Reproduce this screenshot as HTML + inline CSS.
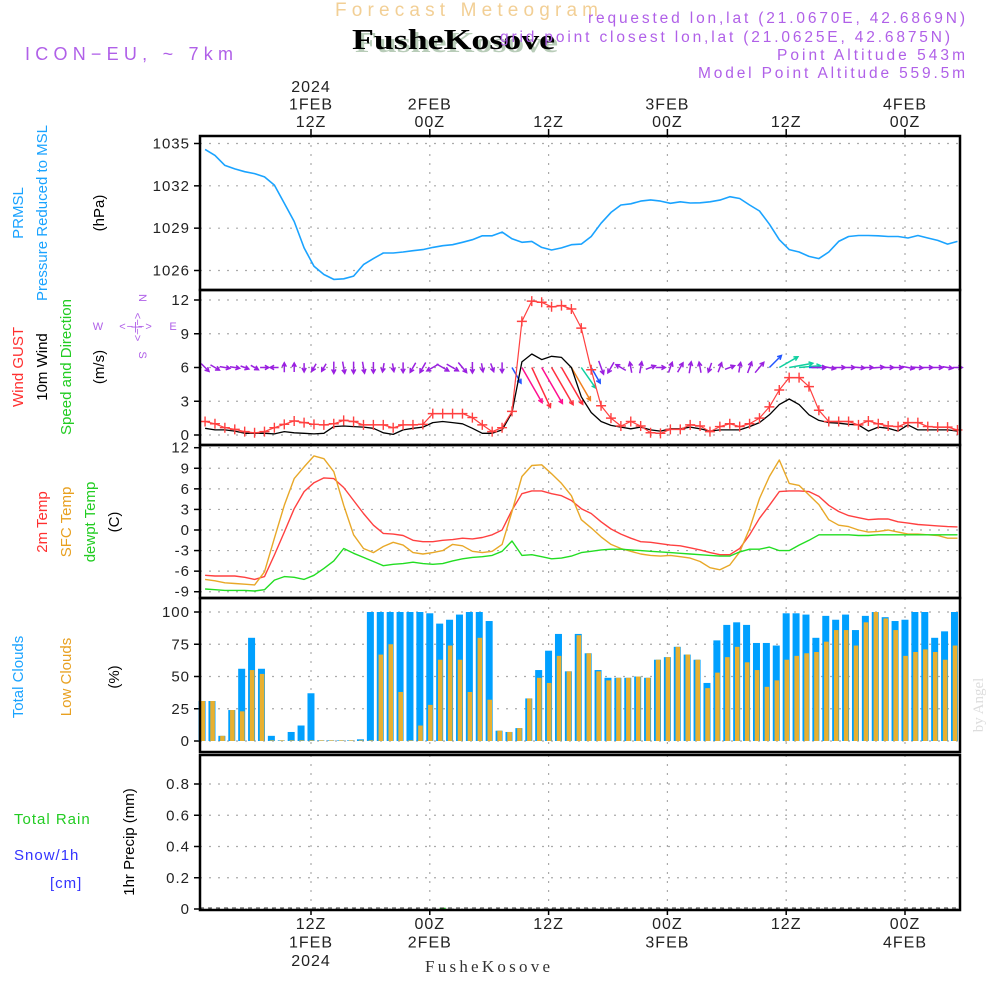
<!DOCTYPE html>
<html><head><meta charset="utf-8">
<style>
html,body{margin:0;padding:0;background:#fff;}
svg{display:block;font-family:"Liberation Sans",sans-serif;}
.tk{font-size:15px;fill:#222;letter-spacing:1px;}
.grid{stroke:#aaa;stroke-width:1.2;stroke-dasharray:2,7;}
</style></head>
<body>
<svg id="chart" width="1000" height="1000" viewBox="0 0 1000 1000">
  <text x="335" y="16" textLength="263" lengthAdjust="spacing" font-size="19" fill="#f2cf95">Forecast Meteogram</text>
  <text x="355" y="52" textLength="203" lengthAdjust="spacingAndGlyphs" font-size="29" font-weight="bold" font-family="Liberation Serif,serif" fill="#b8ccb8">FusheKosove</text>
  <text x="352" y="49" textLength="203" lengthAdjust="spacingAndGlyphs" font-size="29" font-weight="bold" font-family="Liberation Serif,serif" fill="#000">FusheKosove</text>
  <text x="25" y="60" textLength="208" lengthAdjust="spacing" font-size="18" fill="#b060e8">ICON−EU, ~ 7km</text>
  <g font-size="15.5" fill="#b060e8">
    <text x="588" y="23" textLength="377" lengthAdjust="spacing">requested lon,lat (21.0670E, 42.6869N)</text>
    <text x="500" y="42" textLength="450" lengthAdjust="spacing">grid point closest lon,lat (21.0625E, 42.6875N)</text>
    <text x="777" y="60" textLength="188" lengthAdjust="spacing">Point Altitude 543m</text>
    <text x="698" y="78" textLength="267" lengthAdjust="spacing">Model Point Altitude 559.5m</text>
  </g>
  <g id="plots"></g>
  <g font-size="15" text-anchor="middle">
    <text transform="translate(23,213) rotate(-90)" fill="#1aa3ff">PRMSL</text>
    <text transform="translate(47,213) rotate(-90)" fill="#1aa3ff">Pressure Reduced to MSL</text>
    <text transform="translate(104,213) rotate(-90)" fill="#000">(hPa)</text>
    <text transform="translate(23,367) rotate(-90)" fill="#ff3030">Wind GUST</text>
    <text transform="translate(47,367) rotate(-90)" fill="#000">10m Wind</text>
    <text transform="translate(71,367) rotate(-90)" fill="#22cc22">Speed and Direction</text>
    <text transform="translate(104,367) rotate(-90)" fill="#000">(m/s)</text>
    <text transform="translate(47,522) rotate(-90)" fill="#ff3030">2m Temp</text>
    <text transform="translate(71,522) rotate(-90)" fill="#e8a020">SFC Temp</text>
    <text transform="translate(95,522) rotate(-90)" fill="#22cc22">dewpt Temp</text>
    <text transform="translate(119,522) rotate(-90)" fill="#000">(C)</text>
    <text transform="translate(23,677) rotate(-90)" fill="#1aa3ff">Total Clouds</text>
    <text transform="translate(71,677) rotate(-90)" fill="#e8a020">Low Clouds</text>
    <text transform="translate(119,677) rotate(-90)" fill="#000">(%)</text>
    <text transform="translate(134,842) rotate(-90)" fill="#000">1hr Precip (mm)</text>
    <text x="14" y="824" text-anchor="start" fill="#22cc22" letter-spacing="1">Total  Rain</text>
    <text x="14" y="860" text-anchor="start" fill="#3333ff" letter-spacing="1">Snow/1h</text>
    <text x="50" y="888" text-anchor="start" fill="#3333ff" letter-spacing="1">[cm]</text>
  </g>
  <g font-size="11" fill="#b060e8" text-anchor="middle">
    <text transform="translate(139,298) rotate(90)">N</text>
    <text transform="translate(134,327) rotate(90)">&lt;−|−&gt;</text>
    <text transform="translate(139,355) rotate(90)">S</text>
    <text x="98" y="330">W</text>
    <text x="136" y="330" letter-spacing="1">&lt;−|−&gt;</text>
    <text x="173" y="330">E</text>
  </g>
  <text transform="translate(983,705) rotate(-90)" font-size="15" text-anchor="middle" font-family="Liberation Serif,serif" fill="#ddd">by Angel</text>
  <text x="425" y="972" textLength="125" lengthAdjust="spacing" font-size="17" font-family="Liberation Serif,serif" fill="#333">FusheKosove</text>
</svg>
<script>
const pressure=[1034.58,1034.16,1033.45,1033.2,1033.0,1032.87,1032.63,1032.05,1030.76,1029.47,1027.6,1026.3,1025.72,1025.37,1025.41,1025.6,1026.42,1026.84,1027.24,1027.24,1027.31,1027.4,1027.48,1027.64,1027.76,1027.83,1028.0,1028.18,1028.46,1028.46,1028.72,1028.25,1028.0,1028.06,1027.64,1027.45,1027.6,1027.83,1027.87,1028.41,1029.35,1030.12,1030.64,1030.73,1030.92,1031.0,1030.92,1030.76,1030.87,1030.78,1030.8,1030.87,1030.99,1031.23,1031.1,1030.64,1030.22,1029.28,1028.18,1027.48,1027.31,1027.0,1026.84,1027.31,1028.06,1028.41,1028.48,1028.48,1028.46,1028.41,1028.41,1028.3,1028.48,1028.3,1028.13,1027.87,1028.06];
const gust=[1.2,1.0,0.65,0.5,0.3,0.2,0.3,0.65,0.95,1.25,1.1,0.95,0.9,1.0,1.3,1.2,0.9,0.9,0.9,0.65,0.9,0.9,0.95,1.9,1.9,1.9,1.9,1.55,0.9,0.3,0.65,2.1,10.1,11.9,11.8,11.4,11.5,11.2,9.5,5.8,2.6,1.5,0.8,1.2,0.8,0.2,0.15,0.5,0.5,0.9,0.8,0.3,0.75,1.0,0.75,1.0,1.5,2.5,4.0,5.1,5.1,4.3,2.2,1.2,1.2,1.2,0.9,1.25,1.0,0.8,0.75,1.1,1.1,0.75,0.7,0.7,0.45];
const wind=[0.6,0.45,0.45,0.35,0.15,0.15,0.15,0.1,0.3,0.2,0.15,0.1,0.15,0.75,0.8,0.75,0.7,0.6,0.2,0.05,0.45,0.6,0.7,1.1,1.2,1.1,1.0,0.6,0.15,0.15,0.45,2.0,6.5,7.2,6.7,7.0,6.9,6.0,3.4,2.0,1.2,0.85,0.7,0.55,0.7,0.45,0.35,0.55,0.55,0.7,0.55,0.35,0.45,0.45,0.45,0.75,1.1,1.8,2.7,3.2,2.7,1.8,1.3,1.1,1.05,0.95,0.9,0.35,0.7,0.6,0.35,0.9,0.45,0.45,0.45,0.45,0.35];
const windDir=[315,300,280,280,290,300,270,90,180,180,0,30,30,0,350,0,350,0,10,350,0,30,30,60,300,300,320,0,350,340,0,330,330,335,330,330,330,330,325,330,340,30,120,170,190,250,270,200,210,190,170,20,200,250,190,200,220,225,240,260,265,270,270,280,270,270,275,270,265,270,270,280,275,270,270,280,270];
const t2m=[-6.6,-6.7,-6.7,-6.7,-6.9,-7.2,-6.8,-3.65,-0.3,3.1,5.6,6.9,7.6,7.5,6.2,4.3,2.4,0.7,-0.5,-0.6,-0.8,-1.5,-1.7,-1.7,-1.5,-1.4,-1.2,-1.3,-1.1,-0.7,0,2.9,5.3,5.7,5.7,5.3,5.0,4.3,3.1,2.4,1.2,0.15,-0.6,-1.2,-1.7,-1.8,-2.0,-2.2,-2.3,-2.6,-2.9,-3.3,-3.6,-3.6,-2.7,-0.7,1.7,3.6,5.6,5.7,5.7,5.6,4.9,3.6,2.7,2.1,1.8,1.5,1.6,1.6,1.2,1.0,0.8,0.7,0.6,0.5,0.45];
const tsfc=[-7.2,-7.4,-7.7,-7.8,-7.9,-8.0,-6.1,-1.2,3.6,7.5,9.2,10.8,10.4,8.5,3.6,-0.7,-2.7,-3.3,-2.4,-1.8,-2.2,-3.3,-3.5,-3.3,-3.0,-2.1,-2.3,-3.1,-3.3,-3.1,-2.1,2.7,7.8,9.4,9.5,8.2,6.8,5.0,1.5,0.3,-1.0,-2.1,-2.7,-3.1,-3.5,-3.7,-3.8,-3.7,-3.9,-4.1,-4.6,-5.5,-5.8,-5.1,-3.2,0.2,4.6,7.8,10.2,6.8,6.5,5.1,3.7,1.5,0.7,0.5,0,-0.3,-0.2,0,-0.3,-0.6,-0.6,-0.7,-0.8,-1.2,-1.2];
const tdew=[-8.6,-8.7,-8.8,-8.8,-8.8,-8.9,-8.7,-7.3,-6.8,-6.9,-7.2,-6.6,-5.6,-4.5,-2.7,-3.4,-4.0,-4.6,-5.2,-5.0,-4.9,-4.7,-4.9,-5.0,-4.9,-4.5,-4.2,-4.0,-3.9,-3.7,-3.1,-1.6,-3.7,-3.6,-3.9,-4.2,-4.1,-3.8,-3.3,-3.1,-2.9,-2.8,-2.8,-2.9,-3.0,-3.1,-3.2,-3.3,-3.4,-3.5,-3.6,-3.7,-3.8,-3.8,-3.2,-2.8,-2.8,-2.5,-3.0,-3.0,-2.2,-1.5,-0.7,-0.7,-0.7,-0.7,-0.8,-0.8,-0.7,-0.7,-0.7,-0.7,-0.7,-0.7,-0.7,-0.7,-0.7];
const totalClouds=[31,31,4,24,56,80,56,4,0.5,7,12,37,0.5,0.5,0.5,0.5,1.3,100,100,100,100,100,100,99,91,94,98,100,100,93,8,7,10,33,55,70,83,54,83,68,55,49,49,49,50,49,63,65,73,67,63,45,78,90,92,90,76,76,74,99,99,98,80,97,94,98,86,97,100,96,93,94,100,100,80,85,100];
const lowClouds=[31,31,4,24,23,55,52,0.5,0.5,0.5,0.5,0.5,0.5,0.5,0.5,0.5,0.5,0.5,67,75,38,0.5,12,28,63,74,63,38,80,32,8,7,10,33,49,45,66,54,82,68,54,47,49,49,50,49,63,65,73,67,63,41,53,65,73,61,55,42,47,63,66,68,69,77,86,86,74,92,100,95,86,66,69,71,69,63,74];
const precip=[0,0,0,0,0,0,0,0,0,0,0,0,0,0,0,0,0,0,0,0,0,0,0,0,0.002,0,0,0,0,0,0,0,0,0,0,0,0,0,0,0,0,0,0,0,0,0,0,0,0,0,0,0,0,0,0,0,0,0,0,0,0,0,0,0,0,0,0,0,0,0,0,0,0,0,0,0,0];
const hours=[1.3,2.3,3.3,4.3,5.3,6.3,7.3,8.3,9.3,10.3,11.3,12.3,13.3,14.3,15.3,16.3,17.3,18.3,19.3,20.3,21.3,22.3,23.3,24.3,25.3,26.3,27.3,28.3,29.3,30.3,31.3,32.3,33.3,34.3,35.3,36.3,37.3,38.3,39.3,40.3,41.3,42.3,43.3,44.3,45.3,46.3,47.3,48.3,49.3,50.3,51.3,52.3,53.3,54.3,55.3,56.3,57.3,58.3,59.3,60.3,61.3,62.3,63.3,64.3,65.3,66.3,67.3,68.3,69.3,70.3,71.3,72.3,73.3,74.3,75.3,76.3,77.3];
const timeTickHours=[12,24,36,48,60,72];
const topTickLabels=[["2024","1FEB","12Z"],["2FEB","00Z"],["12Z"],["3FEB","00Z"],["12Z"],["4FEB","00Z"]];
const bottomTickLabels=[["12Z","1FEB","2024"],["00Z","2FEB"],["12Z"],["00Z","3FEB"],["12Z"],["00Z","4FEB"]];
const pTicks=[1026,1029,1032,1035];
const wTicks=[0,3,6,9,12];
const tTicks=[-9,-6,-3,0,3,6,9,12];
const cTicks=[0,25,50,75,100];
const prTicks=[0,0.2,0.4,0.6,0.8];

const NS="http://www.w3.org/2000/svg";
const root=document.getElementById('plots');
const X0=200,X1=960;
function xh(h){return 311+(h-12)*9.9;}
function lin(v0,y0,v1,y1){return v=>y0+(v-v0)*(y1-y0)/(v1-v0);}
const yP=lin(1026,270.5,1035,143.5);
const yW=lin(0,435,12,300);
const yT=lin(0,530,12,447.7);
const yC=lin(0,741,100,612);
const yR=lin(0,909,0.8,784);
function mk(tag,attrs,parent){const e=document.createElementNS(NS,tag);for(const k in attrs)e.setAttribute(k,attrs[k]);(parent||root).appendChild(e);return e;}

const panels=[
 {name:'pressure',y0:136,y1:290,ticks:pTicks,ys:yP,fmt:v=>String(v)},
 {name:'wind',y0:290,y1:445,ticks:wTicks,ys:yW,fmt:v=>String(v)},
 {name:'temperature',y0:445,y1:598,ticks:tTicks,ys:yT,fmt:v=>String(v)},
 {name:'clouds',y0:598,y1:752,ticks:cTicks,ys:yC,fmt:v=>String(v)},
 {name:'precip',y0:755,y1:910,ticks:prTicks,ys:yR,fmt:v=>v===0?'0':v.toFixed(1)}
];
panels.forEach(p=>{
  const g=mk('g',{});
  
  
  p.g=g;
  timeTickHours.forEach(h=>{const l=mk('line',{x1:xh(h),x2:xh(h),y1:p.y0,y2:p.y1,class:'grid'},g);
    
    });
  p.ticks.forEach(v=>{
    const y=p.ys(v);
    const l=mk('line',{x1:X0,x2:X1,y1:y,y2:y,class:'grid'},g);
    
    
    mk('line',{x1:X0-6,x2:X0,y1:y,y2:y,stroke:'#000','stroke-width':1.5},g);
    const t=mk('text',{x:X0-10,y:y+5,'text-anchor':'end',class:'tk'},g);
    t.textContent=p.fmt(v);
    
    
  });
});
function line(arr,ys,color,name,g,w){
  const d=arr.map((v,i)=>(i?'L':'M')+xh(hours[i]).toFixed(1)+','+ys(v).toFixed(1)).join('');
  const p=mk('path',{d:d,fill:'none',stroke:color,'stroke-width':w||1.4,'stroke-linejoin':'round'},g);
  
  
  return p;
}
line(pressure,yP,'#1aa3ff','pressure-line',panels[0].g,1.6);
const cg=panels[3].g;
totalClouds.forEach((v,i)=>{
  const c=xh(hours[i])-3;
  const r=mk('rect',{x:c-3.5,y:yC(v),width:7,height:yC(0)-yC(v),fill:'#00a0ff'},cg);
  
  
  const lv=lowClouds[i];
  const r2=mk('rect',{x:c-1.7,y:yC(lv),width:4.6,height:yC(0)-yC(lv),fill:'#e8b030'},cg);
  
  
});
const tg=panels[2].g;
line(t2m,yT,'#ff4040','temp-2m-line',tg);
line(tsfc,yT,'#e8a828','temp-sfc-line',tg);
line(tdew,yT,'#22dd22','dewpoint-line',tg);
const wg=panels[1].g;
function arrowColor(s){return s<1.5?'#9a20e0':s<2.5?'#2255ff':s<4?'#10d0a0':s<6.3?'#f08020':s<6.8?'#ff1090':'#ff3040';}
windDir.forEach((d,i)=>{
  const s=wind[i];
  const x=xh(hours[i]),y=yW(6);
  const len=8+s*5;
  const a=(d+180)*Math.PI/180;
  const dx=Math.sin(a)*len,dy=-Math.cos(a)*len;
  const col=arrowColor(s);
  const strong=s>=1.5;
  const sx=strong?x:x-dx/2, sy=strong?y:y-dy/2;
  const ex=sx+dx, ey=sy+dy;
  const ah=Math.atan2(ey-sy,ex-sx);
  const hl=4.5;
  const d1=`M${sx.toFixed(1)},${sy.toFixed(1)}L${ex.toFixed(1)},${ey.toFixed(1)}M${(ex-hl*Math.cos(ah-0.5)).toFixed(1)},${(ey-hl*Math.sin(ah-0.5)).toFixed(1)}L${ex.toFixed(1)},${ey.toFixed(1)}L${(ex-hl*Math.cos(ah+0.5)).toFixed(1)},${(ey-hl*Math.sin(ah+0.5)).toFixed(1)}`;
  const p=mk('path',{d:d1,fill:'none',stroke:col,'stroke-width':1.5},wg);
  
  
});
line(wind,yW,'#000','wind-speed-line',wg,1.3);
line(gust,yW,'#ff4040','wind-gust-line',wg,1.2);
gust.forEach((v,i)=>{
  const x=xh(hours[i]),y=yW(v);
  const p=mk('path',{d:`M${x-5},${y}L${x+5},${y}M${x},${y-5}L${x},${y+5}`,stroke:'#ff4040','stroke-width':1.4},wg);
  
  
});
const pg=panels[4].g;
precip.forEach((v,i)=>{
  if(v<=0)return;
  const x=xh(hours[i]);
  const r=mk('rect',{x:x-3,y:yR(v)-1,width:6,height:yR(0)-yR(v)+1,fill:'#22cc22'},pg);
  
  
});
const zl=mk('line',{x1:X0,x2:X1,y1:yR(0)-1,y2:yR(0)-1,stroke:'#333','stroke-width':1,'stroke-dasharray':'4,4'},pg);


panels.forEach(p=>{
  const r=mk('rect',{x:X0,y:p.y0,width:X1-X0,height:p.y1-p.y0,fill:'none',stroke:'#000','stroke-width':2.5});
  
  
});
timeTickHours.forEach((h,k)=>{
  const x=xh(h);
  mk('line',{x1:x,x2:x,y1:129,y2:136,stroke:'#000','stroke-width':1.5});
  mk('line',{x1:x,x2:x,y1:910,y2:915,stroke:'#000','stroke-width':1.5});
  const top=topTickLabels[k];
  top.forEach((s,j)=>{
    const t=mk('text',{x:x,y:127-(top.length-1-j)*17.5,'text-anchor':'middle',class:'tk',style:'font-size:16px'});
    t.textContent=s;
    
    
  });
  bottomTickLabels[k].forEach((s,j)=>{
    const t=mk('text',{x:x,y:929+j*18.5,'text-anchor':'middle',class:'tk',style:'font-size:16px'});
    t.textContent=s;
    
    
  });
});
</script>
</body></html>
